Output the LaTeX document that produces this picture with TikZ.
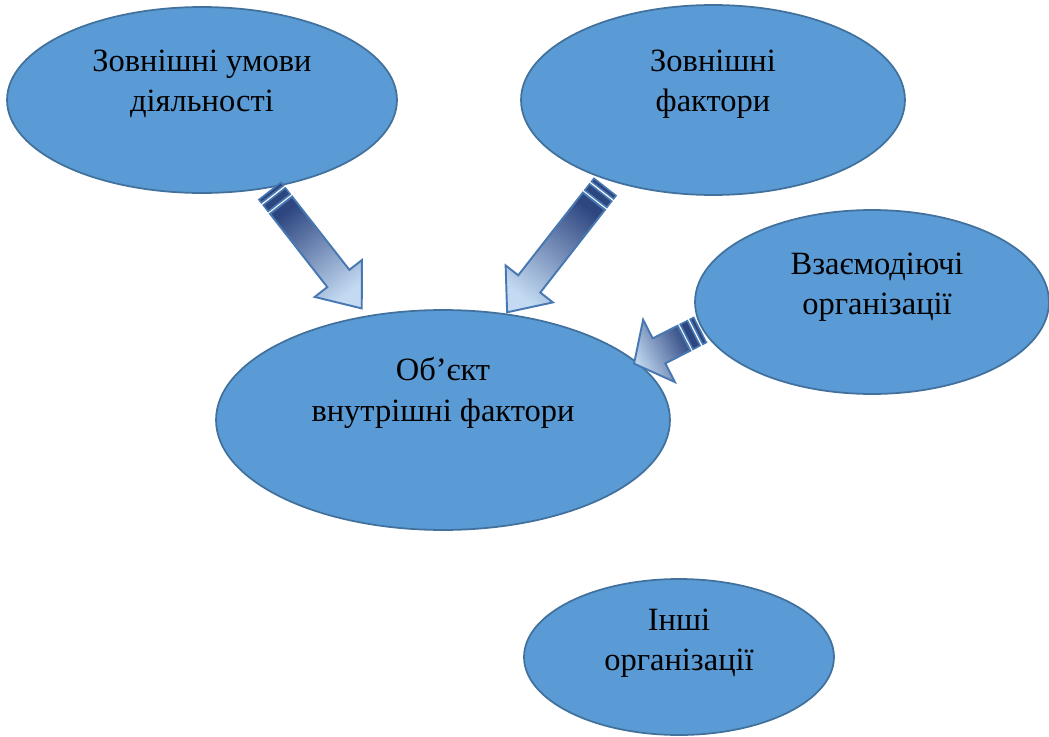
\documentclass[tikz,border=0pt]{standalone}
\usepackage{fontspec}
\setmainfont{Liberation Serif}
\newfontfamily\ovalfont{Liberation Serif}
\usetikzlibrary{shapes.geometric}

\definecolor{ovalfill}{RGB}{91,155,213}
\definecolor{ovalline}{RGB}{65,113,156}
\definecolor{arrdark}{RGB}{45,70,128}
\definecolor{arrlight}{RGB}{195,218,242}
\definecolor{arrline}{RGB}{72,120,178}

\tikzset{
    oval/.style={ellipse, draw=ovalline, fill=ovalfill, line width=1pt, inner sep=0pt},
    ovaltext/.style={align=center, font=\ovalfont\rmfamily\fontsize{18.5}{23}\selectfont},
    fatarrow/.style={draw=arrline, line width=1.1pt, top color=arrdark, bottom color=arrlight, line join=miter},
    stripe/.style={draw=arrline, line width=0.9pt, fill=arrdark}
}

% tail, rotation, length, head length, head half width, shading angle
\newcommand{\fatarr}[6]{%
    \begin{scope}[shift={#1}, rotate=#2]
        \filldraw[stripe] (0,-14) rectangle (4,14);
        \filldraw[stripe] (7,-14) rectangle (15,14);
        \shadedraw[fatarrow, shading angle=#6] (18,-14) -- ({#3-#4},-14) -- ({#3-#4},-#5)
            -- (#3,0) -- ({#3-#4},#5) -- ({#3-#4},14) -- (18,14) -- cycle;
    \end{scope}}

\begin{document}
\begin{tikzpicture}[x=0.02cm, y=-0.02cm]
\useasboundingbox (0,0) rectangle (1049,737);

% Ovals
\node[oval, minimum width=7.8cm, minimum height=3.72cm] (zovumovy) at (202,100) {};
\node[oval, minimum width=7.68cm, minimum height=3.8cm] (zovfaktory) at (713,100) {};
\node[oval, minimum width=7.08cm, minimum height=3.68cm] (vzaiemodiia) at (872,302) {};
\node[oval, minimum width=9.08cm, minimum height=4.4cm] (obiekt) at (443,420) {};
\node[oval, minimum width=6.2cm, minimum height=3.12cm] (inshi) at (679,657) {};

% Texts
\node[ovaltext] (zovumovy-t) at (202,84) {Зовнішні умови\\діяльності};
\node[ovaltext] (zovfaktory-t) at (713,84) {Зовнішні\\фактори};
\node[ovaltext] (vzaiemodiia-t) at (877,287) {Взаємодіючі\\організації};
\node[ovaltext] (obiekt-t) at (443,393) {Об’єкт\\внутрішні фактори};
\node[ovaltext] (inshi-t) at (679,643) {Інші\\організації};

% Arrows
\fatarr{(270,191)}{-52}{149}{38}{30}{38}
\fatarr{(605,187)}{-128}{159}{36}{30}{-38}
\fatarr{(700,330)}{-153}{74}{28}{35}{-63}

\end{tikzpicture}
\end{document}
